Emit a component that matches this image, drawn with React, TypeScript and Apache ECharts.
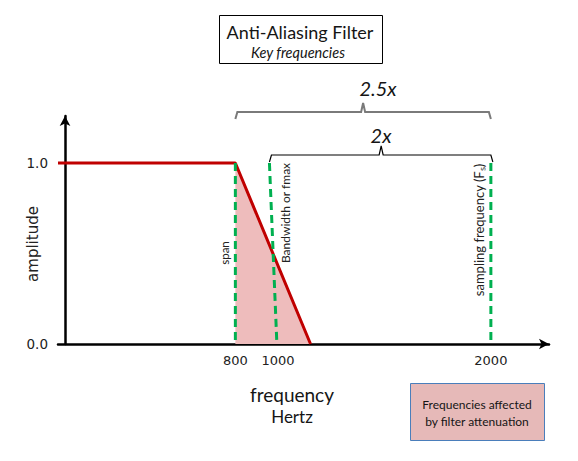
import React, { useEffect, useRef } from "react";
import * as echarts from "echarts";

const filterX = [-33, 800, 1153];
const filterY = [1, 1, 0];
const attenX = [800, 1153];
const attenY = [1, 0];
const spanLine = [[800, 1], [800, 0]];
const bwLine = [[960, 1], [995, 0]];
const fsLine = [[2000, 1], [2000, 0]];
const xTickValues = [800, 1000, 2000];
const yTickValues = [0, 1];

const FONT = "Lato";

export default function App() {
  const ref = useRef<HTMLDivElement>(null);
  useEffect(() => {
    const chart = echarts.init(ref.current!, null, { renderer: "svg" });
    const dashed = (data: number[][]) => ({
      type: "line",
      data,
      symbol: "none",
      lineStyle: { color: "#00b050", width: 3, type: [8, 5] },
      z: 4,
    });
    chart.setOption({
      animation: false,
      grid: { left: 58, right: 29, top: 116, bottom: 117 },
      xAxis: {
        type: "value",
        min: -33,
        max: 2273,
        splitLine: { show: false },
        axisTick: { show: false },
        axisLine: {
          onZero: false,
          symbol: ["none", "arrow"],
          symbolSize: [8, 10],
          lineStyle: { color: "#000", width: 2.5 },
        },
        axisLabel: {
          customValues: xTickValues,
          formatter: (v: number) => String(v),
          fontFamily: "DejaVu Sans",
          fontSize: 13,
          color: "#222",
          margin: 10,
        },
      },
      yAxis: {
        type: "value",
        min: 0,
        max: 1.26,
        splitLine: { show: false },
        axisTick: { show: false },
        axisLine: {
          show: true,
          symbol: ["none", "arrow"],
          symbolSize: [8, 10],
          lineStyle: { color: "#000", width: 2.5 },
        },
        axisLabel: {
          customValues: yTickValues,
          formatter: (v: number) => v.toFixed(1),
          fontFamily: "DejaVu Sans",
          fontSize: 13.5,
          color: "#222",
          margin: 10,
        },
      },
      series: [
        {
          type: "line",
          data: attenX.map((x, i) => [x, attenY[i]]),
          symbol: "none",
          lineStyle: { width: 0 },
          areaStyle: { color: "#eebcbc", opacity: 1 },
          z: 1,
        },
        {
          type: "line",
          data: filterX.map((x, i) => [x, filterY[i]]),
          symbol: "none",
          lineStyle: { color: "#c00000", width: 3 },
          z: 3,
        },
        dashed(spanLine),
        dashed(bwLine),
        dashed(fsLine),
      ],
    });

    const px = (x: number, y: number) => chart.convertToPixel({ gridIndex: 0 }, [x, y]) as number[];
    const p800 = px(800, 1);
    const pBw = px(960, 1);
    const p2000 = px(2000, 1);
    const bracket = (x1: number, x2: number, y: number, stroke: string, lw: number) => {
      const mid = (x1 + x2) / 2;
      return {
        type: "polyline",
        shape: {
          points: [
            [x1, y + 7],
            [x1 + 2, y],
            [mid - 2, y],
            [mid, y - 9],
            [mid + 2, y],
            [x2 - 2, y],
            [x2, y + 7],
          ],
        },
        style: { stroke, lineWidth: lw, fill: null },
      };
    };
    const rotText = (text: string, x: number, y: number, size: number) => ({
      type: "text",
      x,
      y,
      rotation: Math.PI / 2,
      style: {
        text,
        fontFamily: FONT,
        fontSize: size,
        fill: "#222",
        align: "center",
        verticalAlign: "middle",
      },
    });
    const txt = (text: string, x: number, y: number, size: number, italic = false, family = FONT) => ({
      type: "text",
      x,
      y,
      style: {
        text,
        fontFamily: family,
        fontSize: size,
        fontStyle: italic ? "italic" : "normal",
        fill: "#151515",
        align: "center",
        verticalAlign: "middle",
      },
    });
    chart.setOption({
      graphic: [
        {
          type: "rect",
          shape: { x: 219.5, y: 15.5, width: 163, height: 48 },
          style: { fill: "#fff", stroke: "#000", lineWidth: 1 },
        },
        txt("Anti-Aliasing Filter", 300, 32, 18),
        txt("Key frequencies", 298, 52, 14.5, true),
        bracket(p800[0], p2000[0], 112, "#7a7a7a", 2),
        bracket(pBw[0], p2000[0] + 2, 155, "#000", 1.2),
        txt("2.5x", 378, 88, 20, true),
        txt("2x", 381, 135, 20, true),
        rotText("span", p800[0] - 11, 253, 11.5),
        rotText("Bandwidth or fmax", pBw[0] + 16, 213, 12),
        rotText("sampling frequency (F\u209B)", p2000[0] - 12, 230, 13),
        {
          type: "text",
          x: 33,
          y: 244,
          rotation: Math.PI / 2,
          style: { text: "amplitude", fontFamily: "DejaVu Sans", fontSize: 15, fill: "#222", align: "center", verticalAlign: "middle" },
        },
        txt("frequency", 292, 394, 19),
        txt("Hertz", 292, 416, 17),
        {
          type: "rect",
          shape: { x: 410.5, y: 383.5, width: 134, height: 57 },
          style: { fill: "#e6b9b8", stroke: "#4a7ebb", lineWidth: 1 },
        },
        txt("Frequencies affected", 477, 404, 12),
        txt("by filter attenuation", 477, 421, 12),
      ],
    });
    return () => chart.dispose();
  }, []);
  return (
    <div
      ref={ref}
      style={{ position: "absolute", left: 0, top: 0, width: 578, height: 461 }}
    />
  );
}
